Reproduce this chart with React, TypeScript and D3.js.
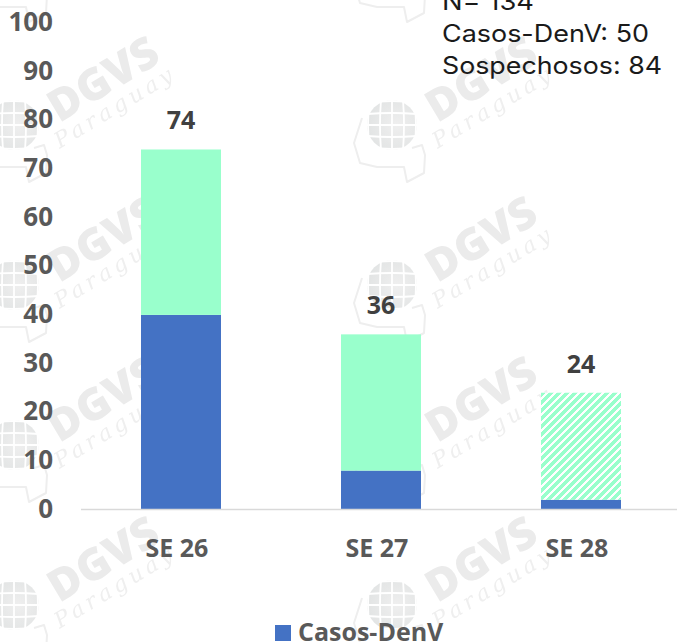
import React from "react";
import * as d3 from "d3";

const categories = ["SE 26", "SE 27", "SE 28"];
const casos = [40, 8, 2];
const sospechosos = [34, 28, 22];
const totals = [74, 36, 24];
const yTicks = [0, 10, 20, 30, 40, 50, 60, 70, 80, 90, 100];
const summaryLines = ["N= 134", "Casos-DenV: 50", "Sospechosos: 84"];
const summaryWidths = [92, 207, 220];
const legendLabel = "Casos-DenV";
const watermarkCols = [14, 392];
const watermarkRows = [-35, 125, 285, 445, 605];

const FONT = "'Open Sans', sans-serif";
const W = 677;
const H = 642;

const x = d3.scaleBand<string>().domain(categories).range([81, 681]).paddingInner(0.6).paddingOuter(0.3);
const y = d3.scaleLinear().domain([0, 100]).range([509.5, 23]);

const mapPath = "M-30,-7 L-38,18 L-32,38 L-15,42 L12,42 L15,57 L32,48 L33,30 L30,20 L20,23";
const globeLines = d3.range(-2, 3);

function Watermark({ cx, cy }: { cx: number; cy: number }) {
  return (
    <g transform={`translate(${cx},${cy})`} filter="url(#soft)">
      <circle r={25} fill="url(#globeFill)" />
      {globeLines.map((k) => (
        <g key={k} stroke="#ffffff" strokeWidth={1.8} fill="none">
          <path d={`M${k * 11},-25 Q${k * 13},0 ${k * 11},25`} />
          <path d={`M-25,${k * 11} Q0,${k * 13} 25,${k * 11}`} />
        </g>
      ))}
      <path d={mapPath} fill="none" stroke="#eeeeee" strokeWidth={2} strokeLinejoin="round" />
      {cy > 0 && (
        <text
          transform="translate(91,-43) rotate(-31)"
          textAnchor="middle"
          dominantBaseline="middle"
          fontFamily={FONT}
          fontWeight={800}
          fontSize={44}
          fill="#ebebeb"
        >
          DGVS
        </text>
      )}
      {cy > 0 && (
        <text
          transform="translate(100,-16) rotate(-31)"
          textAnchor="middle"
          dominantBaseline="middle"
          fontFamily="'DejaVu Serif', serif"
          fontStyle="italic"
          fontSize={22}
          fill="#efefef"
          textLength={134}
          lengthAdjust="spacing"
        >
          Paraguay
        </text>
      )}
    </g>
  );
}

export default function App() {
  return (
    <svg
      width={W}
      height={H}
      viewBox={`0 0 ${W} ${H}`}
      style={{ position: "absolute", left: 0, top: 0, background: "#ffffff" }}
    >
      <defs>
        <filter id="soft" x="-50%" y="-50%" width="200%" height="200%">
          <feGaussianBlur stdDeviation={0.6} />
        </filter>
        <radialGradient id="globeFill" cx="60%" cy="50%" r="60%">
          <stop offset="0%" stopColor="#efefef" />
          <stop offset="100%" stopColor="#e2e4e4" />
        </radialGradient>
        <pattern id="hatch" width={8} height={8} patternUnits="userSpaceOnUse">
          <rect width={8} height={8} fill="#ffffff" />
          <path d="M-2,2 L2,-2 M0,8 L8,0 M6,10 L10,6" stroke="#99ffcc" strokeWidth={4} shapeRendering="crispEdges" />
        </pattern>
      </defs>

      {watermarkRows.map((r) =>
        watermarkCols.map((c) => <Watermark key={`${c}-${r}`} cx={c} cy={r} />)
      )}

      {categories.map((c, i) => {
        const bx = x(c) as number;
        const bw = x.bandwidth();
        return (
          <g key={c}>
            <rect x={bx} y={y(casos[i])} width={bw} height={y(0) - y(casos[i])} fill="#4472c4" />
            <rect
              x={bx}
              y={y(casos[i] + sospechosos[i])}
              width={bw}
              height={y(casos[i]) - y(casos[i] + sospechosos[i])}
              fill={i === 2 ? "url(#hatch)" : "#99ffcc"}
            />
            <text
              x={bx + bw / 2}
              y={y(totals[i]) - 20}
              textAnchor="middle"
              fontFamily={FONT}
              fontWeight={700}
              fontSize={25}
              fill="#404040"
            >
              {totals[i]}
            </text>
            <text
              x={bx + bw / 2 - 4}
              y={557}
              textAnchor="middle"
              fontFamily={FONT}
              fontWeight={700}
              fontSize={25}
              fill="#595959"
            >
              {c}
            </text>
          </g>
        );
      })}

      <line x1={81} x2={W} y1={y(0)} y2={y(0)} stroke="#d9d9d9" strokeWidth={1.5} />

      {yTicks.map((t) => (
        <text
          key={t}
          x={53}
          y={y(t) + 8}
          textAnchor="end"
          fontFamily={FONT}
          fontWeight={700}
          fontSize={26}
          fill="#595959"
        >
          {t}
        </text>
      ))}

      {summaryLines.map((s, i) => (
        <text
          key={s}
          x={442}
          y={10 + i * 32}
          fontFamily="Inter, sans-serif"
          fontSize={24}
          fill="#1a1a1a"
          textLength={summaryWidths[i]}
          lengthAdjust="spacingAndGlyphs"
        >
          {s}
        </text>
      ))}

      <rect x={275} y={625} width={16} height={16} fill="#4472c4" />
      <text x={298} y={641} fontFamily={FONT} fontWeight={700} fontSize={25} fill="#595959">
        {legendLabel}
      </text>
    </svg>
  );
}
